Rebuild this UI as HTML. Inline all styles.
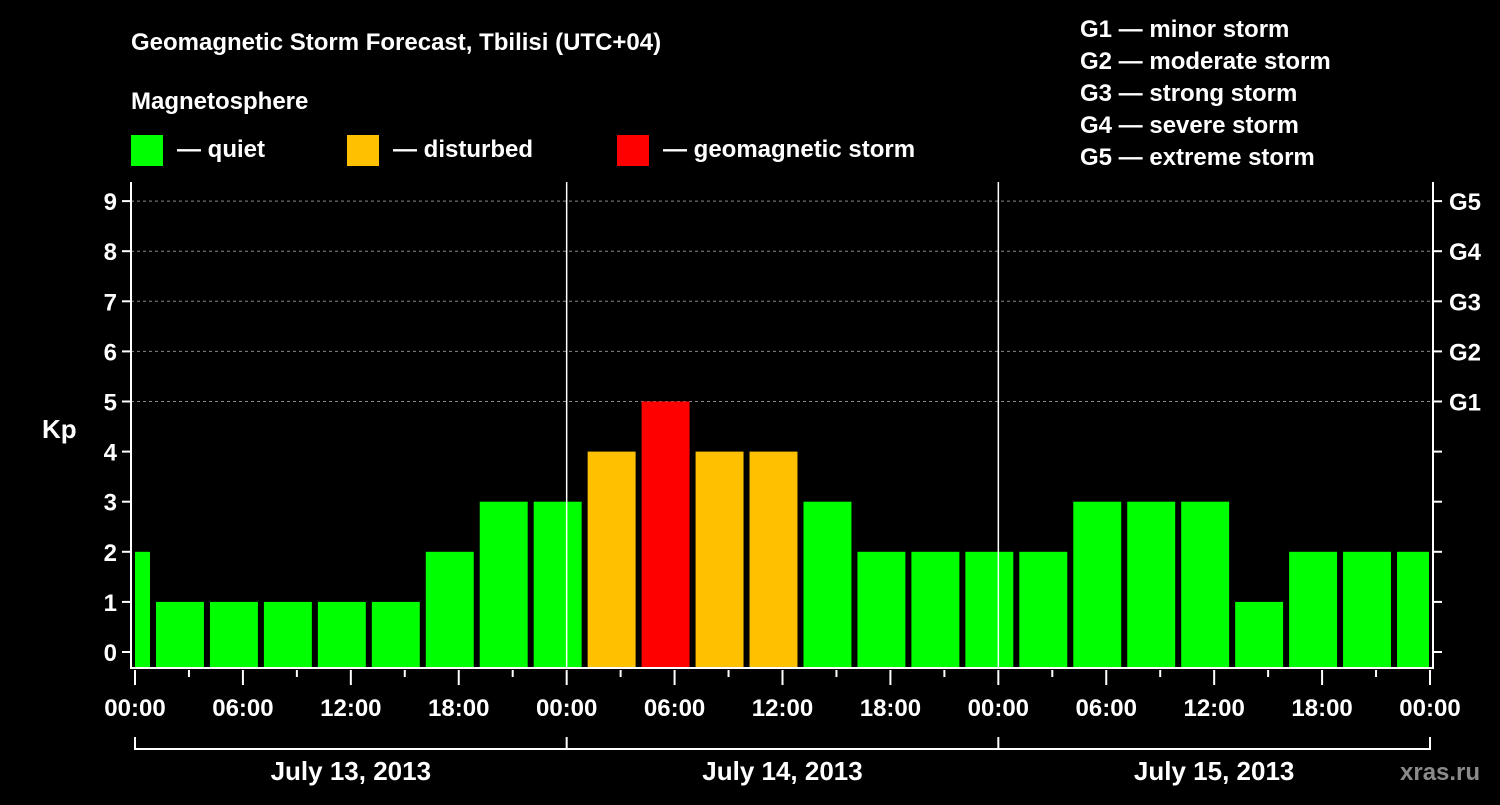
<!DOCTYPE html>
<html><head><meta charset="utf-8"><style>
body{margin:0;background:#000;width:1500px;height:800px;overflow:hidden}
svg text{font-family:"Liberation Sans",sans-serif;font-weight:bold;fill:#fff}
</style></head><body>
<svg id="c" width="1500" height="800" xmlns="http://www.w3.org/2000/svg">
<text x="131" y="50" font-size="24">Geomagnetic Storm Forecast, Tbilisi (UTC+04)</text>
<text x="131" y="109" font-size="24">Magnetosphere</text>
<g><rect x="131" y="135" width="32" height="31" fill="#00ff00"/><text x="177" y="157" font-size="24">— quiet</text></g>
<g><rect x="347" y="135" width="32" height="31" fill="#ffc000"/><text x="393" y="157" font-size="24">— disturbed</text></g>
<g><rect x="617" y="135" width="32" height="31" fill="#ff0000"/><text x="663" y="157" font-size="24">— geomagnetic storm</text></g>
<g font-size="24">
<text x="1080" y="37">G1 — minor storm</text><text x="1080" y="69">G2 — moderate storm</text><text x="1080" y="101">G3 — strong storm</text><text x="1080" y="133">G4 — severe storm</text><text x="1080" y="165">G5 — extreme storm</text></g>
<text x="42" y="438" font-size="26">Kp</text>
<text x="1400" y="780" font-size="24" fill="#888" style="fill:#8a8a8a">xras.ru</text>
<g id="plot"></g>
</svg>
<script>
const kpValues=[2,1,1,1,1,1,2,3,3,4,5,4,4,3,2,2,2,2,3,3,3,1,2,2,2];
const binStartHours=[-2,1,4,7,10,13,16,19,22,25,28,31,34,37,40,43,46,49,52,55,58,61,64,67,70];
const yTicks=[0,1,2,3,4,5,6,7,8,9];
const gLabels=[[5,'G1'],[6,'G2'],[7,'G3'],[8,'G4'],[9,'G5']];
const timeLabels=['00:00','06:00','12:00','18:00','00:00','06:00','12:00','18:00','00:00','06:00','12:00','18:00','00:00'];
const dayLabels=['July 13, 2013','July 14, 2013','July 15, 2013'];
const X0=135,PX=1430,L=131,R=1433,T=182,B=668;
const x=h=>X0+(PX-X0)*h/72;
const y=v=>652-v*50.1;
const ns='http://www.w3.org/2000/svg',g=document.getElementById('plot');
function mk(t,a){const e=document.createElementNS(ns,t);for(const k in a)e.setAttribute(k,a[k]);g.appendChild(e);return e;}
// grid
[5,6,7,8,9].forEach(v=>{const e=mk('line',{x1:L,x2:R,y1:y(v),y2:y(v),stroke:'#888','stroke-dasharray':'3,3','stroke-width':1});

});
// bars
kpValues.forEach((v,i)=>{const s=binStartHours[i];let x1=Math.max(x(s)+3,L+4),x2=Math.min(x(s+3)-3,R-4);
const c=v>=5?'#ff0000':v>=4?'#ffc000':'#00ff00';
const e=mk('rect',{x:x1,y:y(v),width:x2-x1,height:B-y(v),fill:c});

});
// day dividers
[24,48].forEach(h=>{const e=mk('line',{x1:x(h),x2:x(h),y1:T,y2:B,stroke:'#fff','stroke-width':1.5});

});
// frame
const f=mk('path',{d:`M${L},${T}V${B}H${R}V${T}`,fill:'none',stroke:'#fff','stroke-width':2});


// y ticks
yTicks.forEach(v=>{mk('line',{x1:L-9,x2:L,y1:y(v),y2:y(v),stroke:'#fff','stroke-width':2});
mk('line',{x1:R,x2:R+9,y1:y(v),y2:y(v),stroke:'#fff','stroke-width':2});
const t=mk('text',{x:L-14,y:y(v)+9,'font-size':24,'text-anchor':'end'});t.textContent=v;

});
gLabels.forEach(([v,l])=>{const t=mk('text',{x:R+16,y:y(v)+9,'font-size':24});t.textContent=l;

});
// x ticks
for(let h=0;h<=72;h+=3){const major=h%6===0;mk('line',{x1:x(h),x2:x(h),y1:B+2,y2:B+(major?17:9),stroke:'#fff','stroke-width':2});}
timeLabels.forEach((l,i)=>{const t=mk('text',{x:x(i*6),y:716,'font-size':24,'text-anchor':'middle'});t.textContent=l;

});
// day brackets
mk('path',{d:`M${x(0)},737V749H${x(72)}V737M${x(24)},737V749M${x(48)},737V749`,fill:'none',stroke:'#fff','stroke-width':2});
dayLabels.forEach((l,i)=>{const t=mk('text',{x:x(i*24+12),y:780,'font-size':26,'text-anchor':'middle'});t.textContent=l;

});
</script>
</body></html>
